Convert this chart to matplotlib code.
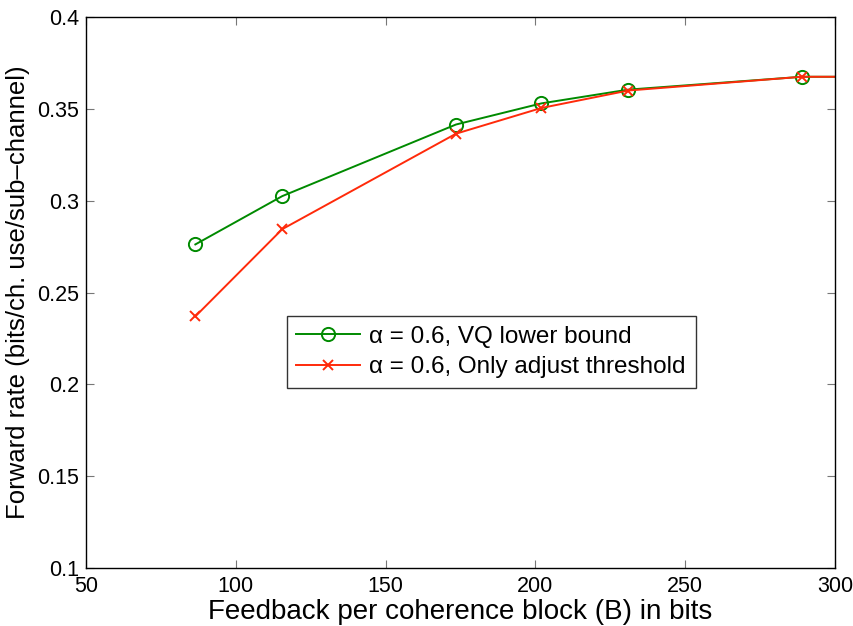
import matplotlib
matplotlib.use("Agg")
import matplotlib.pyplot as plt

plt.rcParams['font.family'] = ['Liberation Sans', 'DejaVu Sans']

feedback_bits = [86.5, 115.5, 173.5, 202, 231, 289, 346]
vq_lower_bound = [0.2762, 0.3025, 0.3415, 0.3530, 0.3605, 0.3675, 0.3675]
adjust_threshold = [0.2370, 0.2845, 0.3365, 0.3505, 0.3600, 0.3675, 0.3675]

xticks = [50, 100, 150, 200, 250, 300]
yticks = [0.1, 0.15, 0.2, 0.25, 0.3, 0.35, 0.4]
ytick_labels = ['0.1', '0.15', '0.2', '0.25', '0.3', '0.35', '0.4']

fig = plt.figure(figsize=(8.54, 6.26), dpi=100)
ax = fig.add_axes([0.1007, 0.0927, 0.877, 0.880])

ax.plot(feedback_bits, vq_lower_bound, color='#008a00', marker='o', markersize=9.5,
        markerfacecolor='none', markeredgewidth=1.4, linewidth=1.4,
        label='\u03b1 = 0.6, VQ lower bound')
ax.plot(feedback_bits, adjust_threshold, color='#ff2a0a', marker='x', markersize=7.5,
        markeredgewidth=1.4, linewidth=1.4,
        label='\u03b1 = 0.6, Only adjust threshold')

ax.set_xlim(50, 300)
ax.set_ylim(0.1, 0.4)
ax.set_xticks(xticks)
ax.set_yticks(yticks)
ax.set_yticklabels(ytick_labels)
ax.tick_params(direction='in', top=True, right=True, labelsize=15.5, length=6,
               color='#777777', width=0.8)
ax.tick_params(axis='x', pad=6)
ax.tick_params(axis='y', pad=5)
for s in ax.spines.values():
    s.set_linewidth(1.0)
ax.set_xlabel('Feedback per coherence block (B) in bits', fontsize=20, labelpad=1)
ax.set_ylabel('Forward rate (bits/ch. use/sub\u2013channel)', fontsize=18.5, labelpad=5)

leg = ax.legend(loc='lower left', bbox_to_anchor=(0.268, 0.327), fontsize=17.5,
                frameon=True, fancybox=False, edgecolor='black', borderpad=0.4,
                handlelength=2.6, labelspacing=0.35, handletextpad=0.4,
                borderaxespad=0)
leg.get_frame().set_linewidth(1.0)

fig.savefig('out.png', dpi=100)
